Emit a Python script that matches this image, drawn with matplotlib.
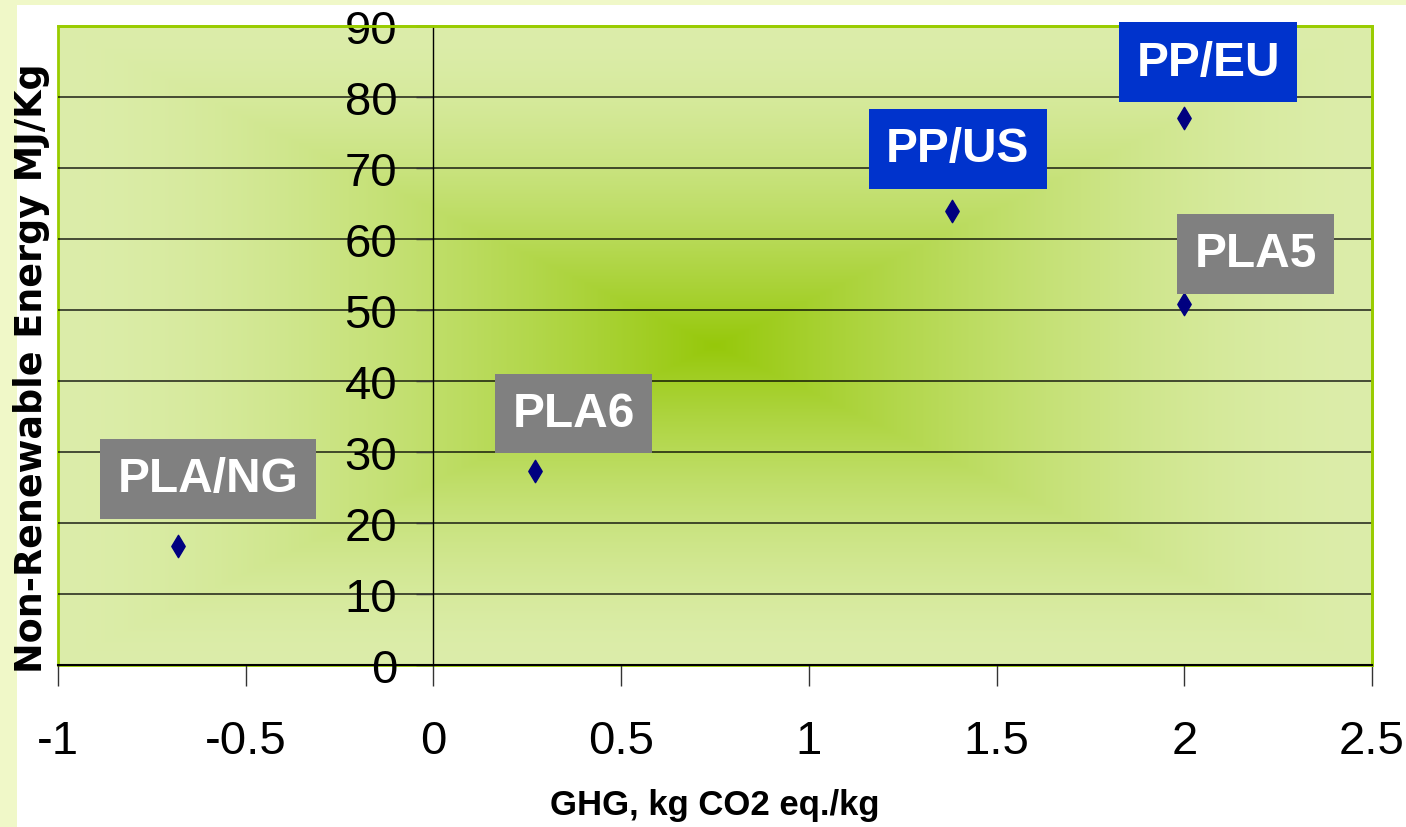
import matplotlib
matplotlib.use('Agg')
import matplotlib.pyplot as plt
import numpy as np
from matplotlib.colors import to_rgb
from matplotlib.patches import Rectangle

# data
names = ['PLA/NG', 'PLA6', 'PP/US', 'PP/EU', 'PLA5']
ghg = [-0.68, 0.27, 1.38, 2.0, 2.0]
nre = [16.8, 27.3, 63.9, 77.0, 50.8]

# where the label boxes sit (data units) and their colours
label_x = [-0.60, 0.374, 1.397, 2.064, 2.19]
label_y = [26.2, 35.4, 72.7, 84.9, 57.9]
label_col = ['#808080', '#808080', '#0033cc', '#0033cc', '#808080']

xticks = [-1, -0.5, 0, 0.5, 1, 1.5, 2, 2.5]
xtick_labels = ['-1', '-0.5', '0', '0.5', '1', '1.5', '2', '2.5']
yticks = [0, 10, 20, 30, 40, 50, 60, 70, 80, 90]

fig = plt.figure(figsize=(14.06, 8.28), dpi=100)
fig.patch.set_facecolor('white')
# light yellow slide strips on the left and top
fig.patches.append(Rectangle((0, 0), 17 / 1406, 1, transform=fig.transFigure,
                             facecolor='#f0f8c8', edgecolor='none', zorder=-5))
fig.patches.append(Rectangle((0, 1 - 6 / 828), 1, 6 / 828, transform=fig.transFigure,
                             facecolor='#f0f8c8', edgecolor='none', zorder=-5))

ax = fig.add_axes([58 / 1406, 1 - 666 / 828, 1314 / 1406, 639 / 828])
ax.set_xlim(-1, 2.5)
ax.set_ylim(0, 90)

# rectangular "from centre" gradient fill of the plot area
nx, ny = 700, 340
u = np.linspace(-1, 1, nx)
v = np.linspace(-1, 1, ny)
U, V = np.meshgrid(u, v)
t = np.maximum(np.abs(U), np.abs(V))
w = (1 - t) ** 1.6
c_in = np.array(to_rgb('#96c80a'))
c_out = np.array(to_rgb('#dcedaa'))
img = c_out[None, None, :] + (c_in - c_out)[None, None, :] * w[:, :, None]
ax.imshow(img, extent=[-1, 2.5, 0, 90], aspect='auto', origin='lower',
          zorder=0, interpolation='bilinear')

ax.set_yticks(yticks)
ax.yaxis.grid(True, color='black', linewidth=1.2, alpha=0.8)
ax.xaxis.grid(False)
ax.set_axisbelow('line')

for s in ['top', 'right']:
    ax.spines[s].set_color('#99cc00')
    ax.spines[s].set_linewidth(2)
ax.spines['bottom'].set_color('black')
ax.spines['bottom'].set_linewidth(1.5)
ax.spines['left'].set_position(('data', 0))
ax.spines['left'].set_color('black')
ax.spines['left'].set_linewidth(1)
ax.add_patch(Rectangle((0, 0), 1, 1, transform=ax.transAxes, fill=False,
                       edgecolor='#99cc00', linewidth=2, zorder=1.2, clip_on=False))

ax.set_xticks(xticks)
ax.set_xticklabels(xtick_labels)
ax.tick_params(axis='x', direction='out', length=15, width=1, color='#333333',
               pad=24, labelsize=34)
ax.tick_params(axis='y', direction='out', length=12, width=1, color='#333333',
               pad=14, labelsize=34)
for lab in ax.get_xticklabels() + ax.get_yticklabels():
    lab.set_family(['Liberation Sans', 'DejaVu Sans'])

ax.scatter(ghg, nre, marker='d', s=130, color='#000080', zorder=5)

for n, lx, ly, c in zip(names, label_x, label_y, label_col):
    ax.text(lx, ly, n, ha='center', va='center', color='white', fontsize=34.5,
            fontweight='bold', family=['Liberation Sans', 'DejaVu Sans'], zorder=6,
            bbox=dict(boxstyle='square,pad=0.36', facecolor=c, edgecolor='none'))

ax.set_xlabel('GHG, kg CO2 eq./kg', fontsize=25, fontweight='bold',
              family=['Liberation Sans', 'DejaVu Sans'])
ax.xaxis.set_label_coords(0.5, -0.219)
ax.xaxis.label.set_va('center')
ax.set_ylabel('Non-Renewable Energy MJ/Kg', fontsize=26.3, fontweight='bold',
              family=['DejaVu Sans'])
ax.yaxis.set_label_coords(-0.0202, 0.466)
ax.yaxis.label.set_va('center')

fig.savefig('out.png', dpi=100)
